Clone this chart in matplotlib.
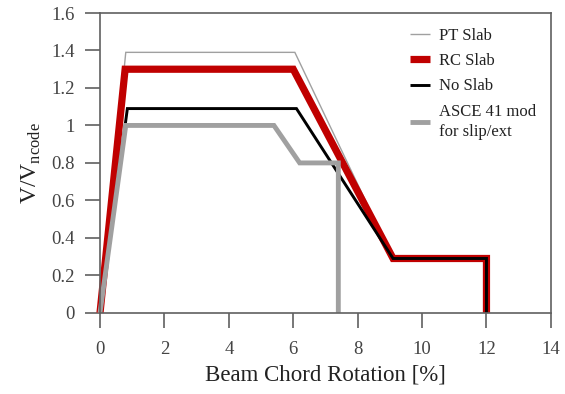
import matplotlib
matplotlib.use("Agg")
import matplotlib.pyplot as plt

# backbone curves, x in % chord rotation, y in V/Vncode
pt_x = [0, 0.8, 6.05, 9.1, 12.0, 12.0]
pt_y = [0, 1.39, 1.39, 0.29, 0.29, 0]

rc_x = [0, 0.78, 6.0, 9.1, 12.0, 12.0]
rc_y = [0, 1.30, 1.30, 0.29, 0.29, 0]

ns_x = [0, 0.85, 6.1, 9.1, 12.0, 12.0]
ns_y = [0, 1.09, 1.09, 0.29, 0.29, 0]

asce_x = [0, 0.8, 5.4, 6.2, 7.4, 7.4]
asce_y = [0, 1.0, 1.0, 0.8, 0.8, 0]

x_ticks = [0, 2, 4, 6, 8, 10, 12, 14]
y_ticks = [0, 0.2, 0.4, 0.6, 0.8, 1.0, 1.2, 1.4, 1.6]
y_tick_labels = ["0", "0.2", "0.4", "0.6", "0.8", "1", "1.2", "1.4", "1.6"]

plt.rcParams["font.family"] = ["Liberation Serif", "DejaVu Serif"]
plt.rcParams["mathtext.fontset"] = "custom"
plt.rcParams["mathtext.rm"] = "Liberation Serif"

fig = plt.figure(figsize=(5.65, 3.94), dpi=100)
ax = fig.add_axes([0.177, 0.206, 0.798, 0.761])

style = dict(solid_joinstyle="miter", solid_capstyle="butt", clip_on=False)
ax.plot(pt_x, pt_y, color="#a0a0a0", lw=1.0, label="PT Slab", **style)
ax.plot(rc_x, rc_y, color="#c00000", lw=5.2, label="RC Slab", **style)
ax.plot(ns_x, ns_y, color="black", lw=2.1, label="No Slab", **style)
ax.plot(asce_x, asce_y, color="#a0a0a0", lw=3.5, label="ASCE 41 mod\nfor slip/ext", **style)

ax.set_xlim(0, 14)
ax.set_ylim(0, 1.6)
ax.set_xticks(x_ticks)
ax.set_yticks(y_ticks)
ax.set_yticklabels(y_tick_labels)

for s in ax.spines.values():
    s.set_color("#606060")
    s.set_linewidth(1.2)
ax.tick_params(direction="out", length=11, width=1.2, color="#606060",
               labelsize=13.5, labelcolor="#444444")
ax.tick_params(axis="x", pad=9)
ax.tick_params(axis="y", pad=7)

ax.set_xlabel("Beam Chord Rotation [%]", fontsize=16.5, color="#222222", labelpad=5)
ax.set_ylabel(r"V/V$_{\mathregular{ncode}}$", fontsize=17, color="#222222", labelpad=6)

leg = ax.legend(loc="upper right", frameon=False, fontsize=12, handlelength=1.2,
                handletextpad=0.5, labelspacing=0.55, borderaxespad=0.5)
for t in leg.get_texts():
    t.set_color("#222222")
    t.set_linespacing(1.35)

fig.savefig("out.png", dpi=100)
